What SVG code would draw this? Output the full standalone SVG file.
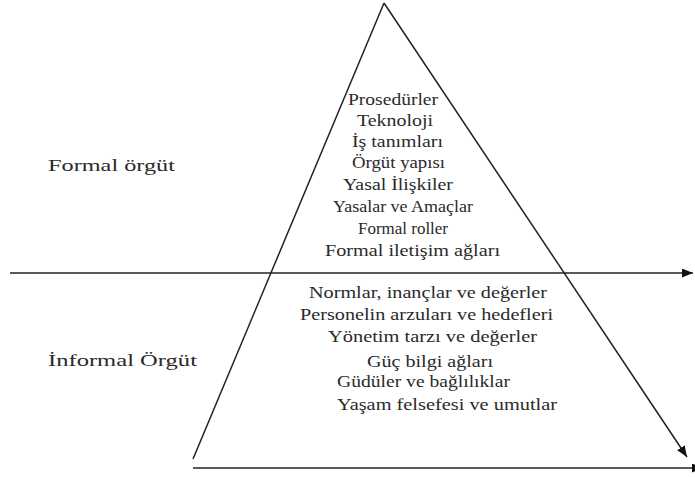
<svg xmlns="http://www.w3.org/2000/svg" width="695" height="477" viewBox="0 0 695 477">
<style>
.t{font-size:17px;fill:#2a2a2a}
.ln{stroke:#222;stroke-width:1.5;fill:none}
</style>
<defs>
<marker id="ah" markerUnits="userSpaceOnUse" markerWidth="12" markerHeight="10" refX="11" refY="4.5" orient="auto">
<path d="M0,0 L11,4.5 L0,9 Z" fill="#111"/>
</marker>
</defs>
<rect width="695" height="477" fill="#fff"/>
<g id="connectors">
<line class="ln" x1="384" y1="3" x2="193" y2="459"/>
<line class="ln" x1="384" y1="3" x2="687" y2="457" marker-end="url(#ah)"/>
<line class="ln" x1="10" y1="273" x2="693" y2="273" marker-end="url(#ah)"/>
<line class="ln" x1="193" y1="468" x2="703" y2="468" marker-end="url(#ah)"/>
</g>
<g font-family="Liberation Serif, Times New Roman, DejaVu Serif, serif">
<g id="formal-label">
<text class="t" x="48" y="171" textLength="127" lengthAdjust="spacingAndGlyphs">Formal örgüt</text>
</g>
<g id="informal-label">
<text class="t" x="48" y="366" textLength="149" lengthAdjust="spacingAndGlyphs">İnformal Örgüt</text>
</g>
<g id="formal-items">
<text class="t" x="348" y="105" textLength="90" lengthAdjust="spacingAndGlyphs">Prosedürler</text>
<text class="t" x="357" y="126" textLength="76" lengthAdjust="spacingAndGlyphs">Teknoloji</text>
<text class="t" x="352" y="147" textLength="91" lengthAdjust="spacingAndGlyphs">İş tanımları</text>
<text class="t" x="352" y="168" textLength="93" lengthAdjust="spacingAndGlyphs">Örgüt yapısı</text>
<text class="t" x="343" y="190" textLength="110" lengthAdjust="spacingAndGlyphs">Yasal İlişkiler</text>
<text class="t" x="333" y="212" textLength="140" lengthAdjust="spacingAndGlyphs">Yasalar ve Amaçlar</text>
<text class="t" x="358" y="234" textLength="90" lengthAdjust="spacingAndGlyphs">Formal roller</text>
<text class="t" x="325" y="256" textLength="175" lengthAdjust="spacingAndGlyphs">Formal iletişim ağları</text>
</g>
<g id="informal-items">
<text class="t" x="309" y="298" textLength="238" lengthAdjust="spacingAndGlyphs">Normlar, inançlar ve değerler</text>
<text class="t" x="300" y="320" textLength="253" lengthAdjust="spacingAndGlyphs">Personelin arzuları ve hedefleri</text>
<text class="t" x="328" y="342" textLength="209" lengthAdjust="spacingAndGlyphs">Yönetim tarzı ve değerler</text>
<text class="t" x="367" y="367" textLength="126" lengthAdjust="spacingAndGlyphs">Güç bilgi ağları</text>
<text class="t" x="337" y="387" textLength="173" lengthAdjust="spacingAndGlyphs">Güdüler ve bağlılıklar</text>
<text class="t" x="337" y="410" textLength="220" lengthAdjust="spacingAndGlyphs">Yaşam felsefesi ve umutlar</text>
</g>
</g>
</svg>
